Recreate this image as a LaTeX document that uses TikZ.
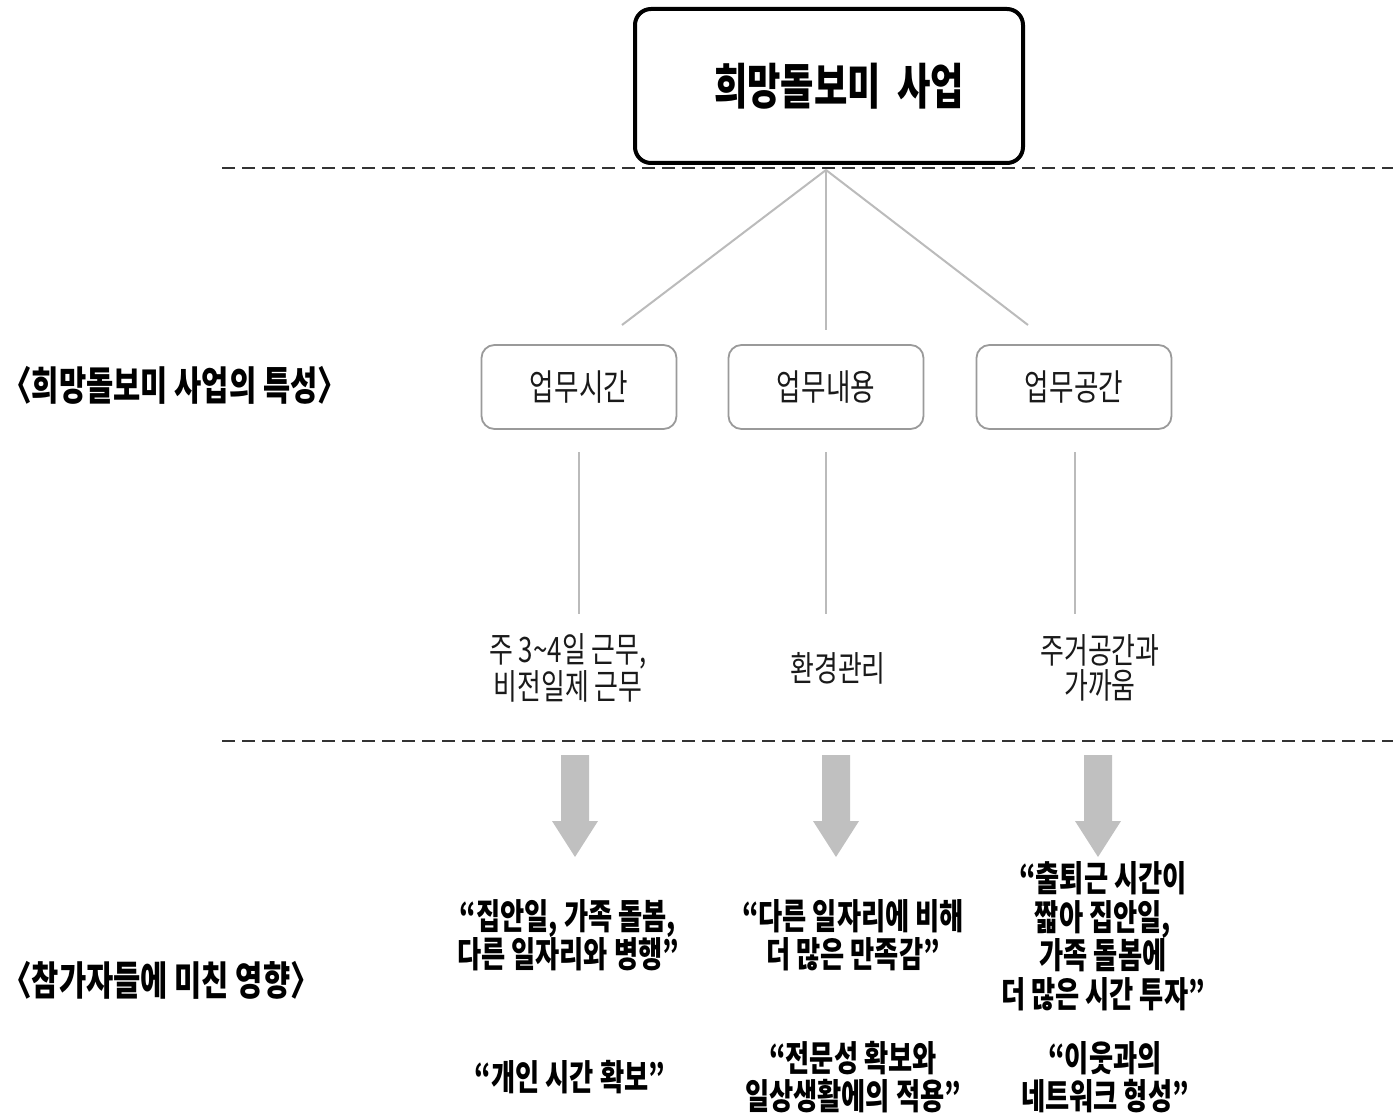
\documentclass[tikz,border=0pt]{standalone}
\usepackage{fontspec}
\setmainfont{Noto Sans CJK KR}[FakeStretch=0.74]
\newfontfamily\kr{Noto Sans CJK KR}[FakeStretch=0.74]
\definecolor{dashc}{HTML}{333333}
\definecolor{linec}{HTML}{BBBBBB}
\definecolor{boxc}{HTML}{9A9A9A}
\definecolor{arrc}{HTML}{C0C0C0}
\definecolor{txtc}{HTML}{1A1A1A}
\tikzset{
  topbox/.style={draw=black, line width=4pt, rounded corners=16pt, minimum width=388pt, minimum height=154pt, font=\kr\bfseries\fontsize{49}{54}\selectfont, inner sep=0pt},
  catbox/.style={draw=boxc, line width=1.8pt, rounded corners=13pt, minimum width=195pt, minimum height=84pt, font=\kr\fontsize{36}{40}\selectfont, text=txtc, inner sep=0pt},
  conn/.style={draw=linec, line width=2pt},
  sep/.style={draw=dashc, line width=2pt, dash pattern=on 13pt off 7pt},
  midtxt/.style={font=\kr\fontsize{35}{35}\selectfont, text=txtc, align=center, inner sep=0pt},
  quotetxt/.style={font=\kr\bfseries\fontsize{35.5}{38.5}\selectfont, text=black, align=center, inner sep=0pt},
  sidetxt/.style={font=\kr\bfseries\fontsize{40}{44}\selectfont, text=black, anchor=west, inner sep=0pt},
  blockarrow/.style={fill=arrc, draw=none}
}
\begin{document}
\begin{tikzpicture}[x=1pt,y=-1pt]
\useasboundingbox (0,0) rectangle (1393,1118);
% separators
\coordinate (s1a) at (222,168); \coordinate (s1b) at (1393,168);
\coordinate (s2a) at (222,741); \coordinate (s2b) at (1393,741);
\draw[sep] (s1a) -- (s1b);
\draw[sep] (s2a) -- (s2b);
% top box
\node[topbox, fill=white] (top) at (829,86) {\hspace{20pt}희망돌보미\hspace{8pt} 사업};
% category boxes
\node[catbox] (c1) at (579,387) {업무시간};
\node[catbox] (c2) at (826,387) {업무내용};
\node[catbox] (c3) at (1074,387) {업무공간};
% connectors from top
\coordinate (hub) at (826,170);
\coordinate (e1) at (622,325);
\coordinate (e2) at (826,330);
\coordinate (e3) at (1028,325);
\draw[conn] (hub) -- (e1);
\draw[conn] (hub) -- (e2);
\draw[conn] (hub) -- (e3);
% vertical lines
\coordinate (v1a) at (579,452); \coordinate (v1b) at (579,614);
\coordinate (v2a) at (826,452); \coordinate (v2b) at (826,614);
\coordinate (v3a) at (1075,452); \coordinate (v3b) at (1075,614);
\draw[conn] (v1a) -- (v1b);
\draw[conn] (v2a) -- (v2b);
\draw[conn] (v3a) -- (v3b);
% mid texts
\node[midtxt] (m1) at (568,668) {주 3\textasciitilde4일 근무,\\비전일제 근무};
\node[midtxt] (m2) at (838,668) {환경관리};
\node[midtxt] (m3) at (1100,668) {주거공간과\\가까움};
% block arrows
\foreach \cx/\nm in {575/a1,836/a2,1098/a3}{
  \fill[blockarrow] (\cx-14,755) -- (\cx+14,755) -- (\cx+14,821) -- (\cx+23,821) -- (\cx,857) -- (\cx-23,821) -- (\cx-14,821) -- cycle;
}
% quotes
\node[quotetxt] (q1) at (568,935) {“집안일, 가족 돌봄,\\다른 일자리와 병행”};
\node[quotetxt] (q2) at (853,935) {“다른 일자리에 비해\\더 많은 만족감”};
\node[quotetxt] (q3) at (1103,936) {“출퇴근 시간이\\짧아 집안일,\\가족 돌봄에\\더 많은 시간 투자”};
\node[quotetxt] (q4) at (570,1077) {“개인 시간 확보”};
\node[quotetxt] (q5) at (853,1077) {“전문성 확보와\\일상생활에의 적용”};
\node[quotetxt] (q6) at (1105,1077) {“이웃과의\\네트워크 형성”};
% side labels
\node[sidetxt] (l1) at (2,385) {〈희망돌보미 사업의 특성〉};
\node[sidetxt] (l2) at (2,980) {〈참가자들에 미친 영향〉};
\end{tikzpicture}
\end{document}
